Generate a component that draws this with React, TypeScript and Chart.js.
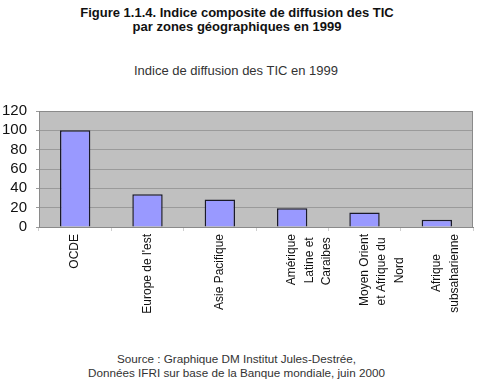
import React, { useEffect, useRef } from "react";
import { Chart, registerables } from "chart.js";

Chart.register(...registerables);

const categories: string[][] = [
  ["OCDE"],
  ["Europe de l'est"],
  ["Asie Pacifique"],
  ["Amérique", "Latine et", "Caraibes"],
  ["Moyen Orient", "et Afrique du", "Nord"],
  ["Afrique", "subsaharienne"],
];
const values: number[] = [100, 34, 28.5, 19.5, 15, 7.5];
const yTicks: number[] = [0, 20, 40, 60, 80, 100, 120];

const FONT = "Liberation Sans, Arial, sans-serif";
const X_FONT_SIZE = 12;

// pad shorter lines with trailing spaces so that rotated multi-line labels look centred
function centreLines(lines: string[]): string[] {
  const c = document.createElement("canvas").getContext("2d")!;
  c.font = `${X_FONT_SIZE}px ${FONT}`;
  const widths = lines.map((l) => c.measureText(l).width);
  const max = Math.max(...widths);
  const sp = c.measureText(" ").width;
  return lines.map((l, i) => l + " ".repeat(Math.round((max - widths[i]) / 2 / sp)));
}

const plotBg = {
  id: "plotBg",
  beforeDraw(chart: any) {
    const { ctx, chartArea: a } = chart;
    ctx.save();
    ctx.fillStyle = "#c0c0c0";
    ctx.fillRect(a.left, a.top, a.right - a.left, a.bottom - a.top);
    ctx.restore();
  },
  afterDatasetsDraw(chart: any) {
    const { ctx, chartArea: a } = chart;
    ctx.save();
    ctx.strokeStyle = "#8a8a8a";
    ctx.lineWidth = 1;
    ctx.strokeRect(a.left + 0.5, a.top + 0.5, a.right - a.left - 1, a.bottom - a.top);
    ctx.restore();
  },
};

export default function App() {
  const ref = useRef<HTMLCanvasElement>(null);
  useEffect(() => {
    const chart = new Chart(ref.current!, {
      type: "bar",
      data: {
        labels: categories.map(centreLines),
        datasets: [
          {
            data: values,
            backgroundColor: "#9999ff",
            borderColor: "#1a1a2a",
            borderWidth: 1.5,
            barPercentage: 0.84,
            categoryPercentage: 0.5,
          },
        ],
      },
      plugins: [plotBg],
      options: {
        animation: false,
        responsive: false,
        layout: { padding: { top: 0, right: 17 } },
        plugins: { legend: { display: false }, tooltip: { enabled: false }, title: { display: false } },
        scales: {
          x: {
            offset: true,
            border: { display: true, color: "#8a8a8a" },
            grid: { offset: true, drawOnChartArea: false, drawTicks: true, tickLength: 4, color: "#cfcfcf" },
            ticks: {
              minRotation: 90,
              maxRotation: 90,
              autoSkip: false,
              padding: 3,
              color: "#111",
              font: { family: FONT, size: X_FONT_SIZE, lineHeight: 1.45 },
            },
            afterFit(scale: any) {
              scale.height = 102;
            },
          },
          y: {
            min: 0,
            max: 120,
            afterBuildTicks(scale: any) {
              scale.ticks = yTicks.map((v) => ({ value: v }));
            },
            border: { display: true, color: "#8a8a8a" },
            grid: { color: "#9a9a9a", drawTicks: true, tickLength: 3 },
            ticks: {
              autoSkip: false,
              padding: 9,
              color: "#111",
              font: { family: FONT, size: 15 },
            },
            afterFit(scale: any) {
              scale.width = 39;
            },
          },
        },
      },
    });
    return () => chart.destroy();
  }, []);

  return (
    <div style={{ position: "fixed", left: 0, top: 0, width: 502, height: 384, background: "#fff", fontFamily: FONT }}>
      <div style={{ position: "absolute", top: 6, left: 0, width: 474, textAlign: "center", fontSize: 13, fontWeight: "bold", lineHeight: "14px", color: "#111" }}>
        Figure 1.1.4. Indice composite de diffusion des TIC
        <br />
        par zones géographiques en 1999
      </div>
      <div style={{ position: "absolute", top: 63, left: 0, width: 472, textAlign: "center", fontSize: 13, lineHeight: "16px", color: "#333" }}>
        Indice de diffusion des TIC en 1999
      </div>
      <canvas ref={ref} width={490} height={236} style={{ position: "absolute", top: 93, left: 0 }} />
      <div style={{ position: "absolute", top: 352, left: 0, width: 473, textAlign: "center", fontSize: 11.7, lineHeight: "13.5px", color: "#333" }}>
        Source : Graphique DM Institut Jules-Destrée,
        <br />
        Données IFRI sur base de la Banque mondiale, juin 2000
      </div>
    </div>
  );
}
